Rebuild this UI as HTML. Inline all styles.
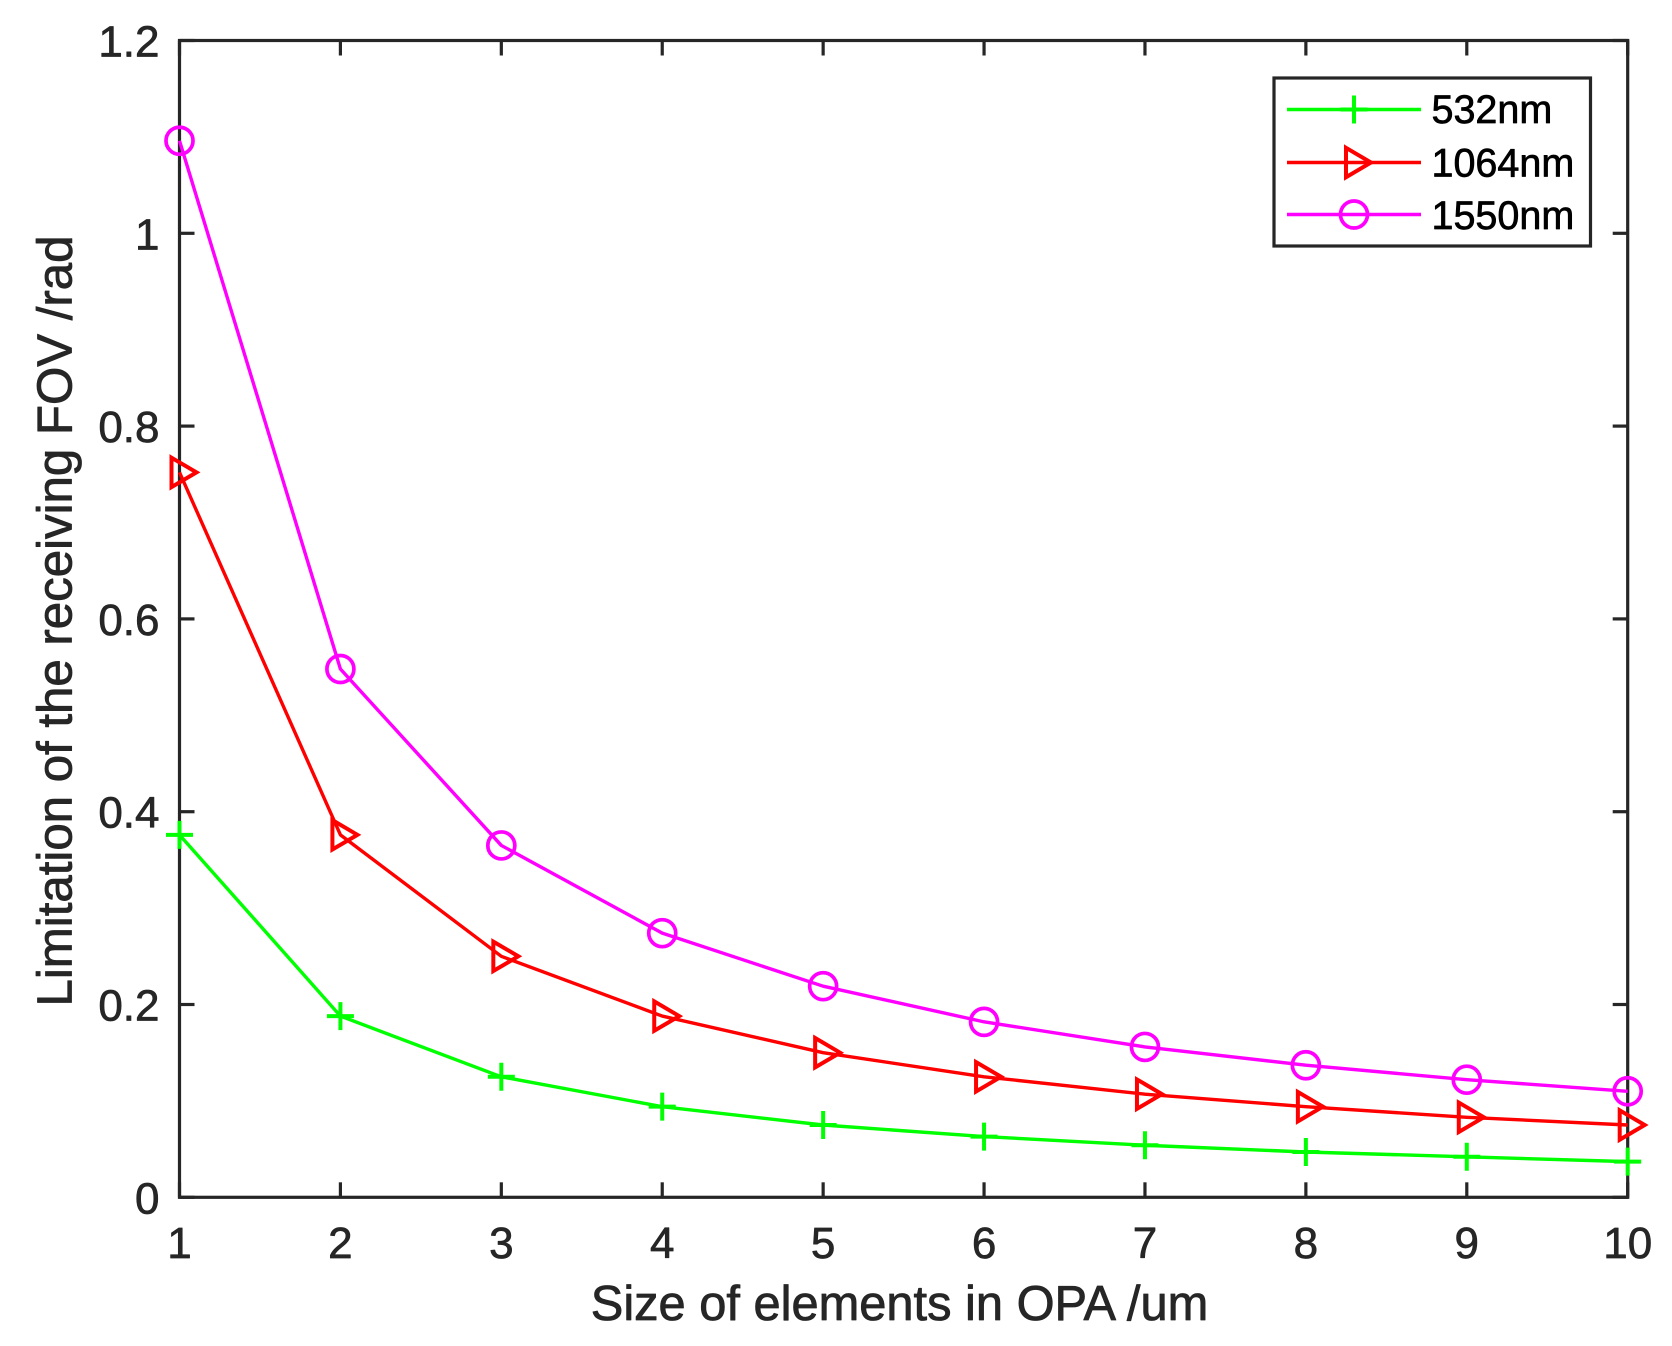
<!DOCTYPE html>
<html lang="en">
<head>
<meta charset="utf-8">
<title>Limitation of the receiving FOV vs size of elements in OPA</title>
<style>
html,body{margin:0;padding:0;background:#fff;}
body{width:1672px;height:1346px;overflow:hidden;}
svg{display:block;font-family:"Liberation Sans",Arial,sans-serif;}
text{stroke-linejoin:round;}
</style>
</head>
<body>
<svg id="chart" width="1672" height="1346" viewBox="0 0 1672 1346" xmlns="http://www.w3.org/2000/svg">
  <rect x="0" y="0" width="1672" height="1346" fill="#ffffff"/>
  <g id="axes"></g>
  <g id="series"></g>
  <text x="899.5" y="1320" font-size="48.8" fill="#262626" stroke="#262626" stroke-width="0.8" text-anchor="middle">Size of elements in OPA /um</text>
  <text transform="translate(71.5,621) rotate(-90)" font-size="49.2" fill="#262626" stroke="#262626" stroke-width="0.8" text-anchor="middle">Limitation of the receiving FOV /rad</text>
  <g id="legend">
    <rect x="1274" y="78" width="316.5" height="168" fill="#ffffff" stroke="#262626" stroke-width="3.2"/>
    <text x="1431.5" y="123" font-size="39.5" fill="#000000" stroke="#000000" stroke-width="0.7">532nm</text>
    <text x="1431.5" y="176.5" font-size="39.5" fill="#000000" stroke="#000000" stroke-width="0.7">1064nm</text>
    <text x="1431.5" y="229" font-size="39.5" fill="#000000" stroke="#000000" stroke-width="0.7">1550nm</text>
  </g>
</svg>
<script>
const sizes = [1, 2, 3, 4, 5, 6, 7, 8, 9, 10];
const values532 = [0.376, 0.188, 0.125, 0.094, 0.075, 0.063, 0.054, 0.047, 0.042, 0.037];
const values1064 = [0.752, 0.376, 0.250, 0.188, 0.150, 0.125, 0.107, 0.094, 0.083, 0.075];
const values1550 = [1.096, 0.548, 0.365, 0.274, 0.219, 0.182, 0.156, 0.137, 0.122, 0.110];
const xTickValues = [1, 2, 3, 4, 5, 6, 7, 8, 9, 10];
const yTickValues = [0, 0.2, 0.4, 0.6, 0.8, 1, 1.2];

const NS = 'http://www.w3.org/2000/svg';
const PLOT = {left: 179.5, right: 1627.7, top: 40.5, bottom: 1197.3};
const X_MIN = 1, X_MAX = 10, Y_MIN = 0, Y_MAX = 1.2;
const INK = '#262626';
const TICK = 15;

function xScale(v) { return PLOT.left + (v - X_MIN) / (X_MAX - X_MIN) * (PLOT.right - PLOT.left); }
function yScale(v) { return PLOT.bottom - (v - Y_MIN) / (Y_MAX - Y_MIN) * (PLOT.bottom - PLOT.top); }

function make(tag, attrs, parent) {
  const el = document.createElementNS(NS, tag);
  for (const k in attrs) el.setAttribute(k, attrs[k]);
  parent.appendChild(el);
  return el;
}

const axes = document.getElementById('axes');
const seriesGroup = document.getElementById('series');
const legend = document.getElementById('legend');

const plotBox = make('rect', {x: PLOT.left, y: PLOT.top, width: PLOT.right - PLOT.left, height: PLOT.bottom - PLOT.top, fill: 'none', stroke: INK, 'stroke-width': 3.2}, axes);



xTickValues.forEach(function (t) {
  const x = xScale(t);
  const bottomTick = make('line', {x1: x, x2: x, y1: PLOT.bottom, y2: PLOT.bottom - TICK, stroke: INK, 'stroke-width': 3.2}, axes);
  
  
  const topTick = make('line', {x1: x, x2: x, y1: PLOT.top, y2: PLOT.top + TICK, stroke: INK, 'stroke-width': 3.2}, axes);
  
  
  const label = make('text', {x: x, y: 1258, 'font-size': 44, fill: INK, stroke: INK, 'stroke-width': 0.7, 'text-anchor': 'middle'}, axes);
  
  
  label.textContent = String(t);
});

yTickValues.forEach(function (t) {
  const y = yScale(t);
  const leftTick = make('line', {x1: PLOT.left, x2: PLOT.left + TICK, y1: y, y2: y, stroke: INK, 'stroke-width': 3.2}, axes);
  
  
  const rightTick = make('line', {x1: PLOT.right, x2: PLOT.right - TICK, y1: y, y2: y, stroke: INK, 'stroke-width': 3.2}, axes);
  
  
  const label = make('text', {x: 159.5, y: y + 16, 'font-size': 44, fill: INK, stroke: INK, 'stroke-width': 0.7, 'text-anchor': 'end'}, axes);
  
  
  label.textContent = String(t);
});

function drawPlus(parent, cx, cy, color) {
  const m = make('path', {d: 'M' + (cx - 13.5) + ' ' + cy + 'H' + (cx + 13.5) + 'M' + cx + ' ' + (cy - 14) + 'V' + (cy + 14), fill: 'none', stroke: color, 'stroke-width': 4}, parent);
  
  
}
function drawTriangle(parent, cx, cy, color) {
  const m = make('path', {d: 'M' + (cx - 8) + ' ' + (cy - 14.7) + 'L' + (cx + 17) + ' ' + cy + 'L' + (cx - 8) + ' ' + (cy + 14.7) + 'Z', fill: 'none', stroke: color, 'stroke-width': 4, 'stroke-linejoin': 'miter', 'stroke-miterlimit': 10}, parent);
  
  
}
function drawCircle(parent, cx, cy, color) {
  const m = make('circle', {cx: cx, cy: cy, r: 13.5, fill: 'none', stroke: color, 'stroke-width': 3.7}, parent);
  
  
}

function drawSeries(name, values, color, marker) {
  const g = make('g', {}, seriesGroup);
  
  
  const pts = values.map(function (v, i) { return xScale(sizes[i]) + ',' + yScale(v); }).join(' ');
  const line = make('polyline', {points: pts, fill: 'none', stroke: color, 'stroke-width': 3.4, 'stroke-linejoin': 'round'}, g);
  
  
  values.forEach(function (v, i) { marker(g, xScale(sizes[i]), yScale(v), color); });
}

drawSeries('series-532nm', values532, '#00ff00', drawPlus);
drawSeries('series-1064nm', values1064, '#ff0000', drawTriangle);
drawSeries('series-1550nm', values1550, '#ff00ff', drawCircle);

function drawLegendKey(name, y, color, marker) {
  const line = make('line', {x1: 1287, x2: 1421, y1: y, y2: y, stroke: color, 'stroke-width': 3.4}, legend);
  
  
  marker(legend, 1354, y, color);
}
drawLegendKey('legend-key-532nm', 109.5, '#00ff00', drawPlus);
drawLegendKey('legend-key-1064nm', 162.5, '#ff0000', drawTriangle);
drawLegendKey('legend-key-1550nm', 214.5, '#ff00ff', drawCircle);
</script>
</body>
</html>
